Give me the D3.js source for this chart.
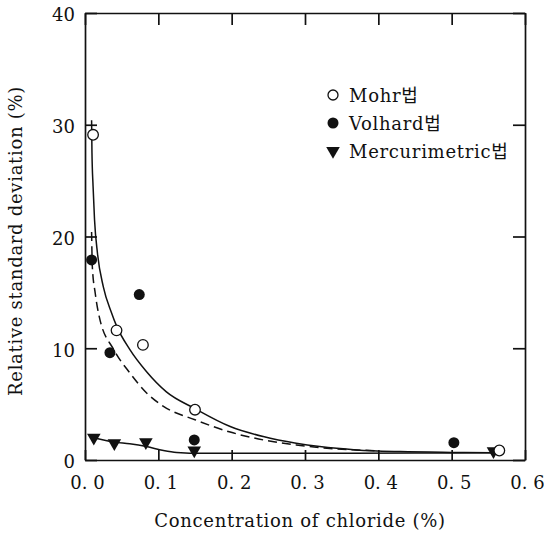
<!DOCTYPE html>
<html>
<head>
<meta charset="utf-8">
<script src="https://cdn.jsdelivr.net/npm/d3@7"></script>
<style>
  body { margin: 0; background: #fff; }
  svg text { font-family: "DejaVu Serif", "Noto Sans CJK KR", serif; fill: #111; }
</style>
</head>
<body>
<svg id="chart" width="544" height="541"></svg>
<script>
// measured points
const mohrConc = [0.011, 0.043, 0.079, 0.150, 0.565];
const mohrRsd = [29.1, 11.6, 10.3, 4.5, 0.85];
const volhardConc = [0.009, 0.034, 0.074, 0.149, 0.503];
const volhardRsd = [17.9, 9.6, 14.8, 1.8, 1.55];
const mercConc = [0.012, 0.040, 0.083, 0.149, 0.557];
const mercRsd = [2.0, 1.5, 1.6, 0.85, 0.8];

// fitted curves
const mohrFitConc = [0.009, 0.0095, 0.011, 0.013, 0.017, 0.025, 0.036, 0.043, 0.061, 0.084, 0.111, 0.150, 0.198, 0.243, 0.288, 0.320, 0.370, 0.430, 0.500, 0.555];
const mohrFitRsd = [30.4, 27.5, 24.5, 21.5, 18.5, 15.5, 13.2, 12.0, 9.9, 7.9, 6.1, 4.6, 3.0, 2.1, 1.5, 1.2, 0.9, 0.75, 0.68, 0.65];
const volhardFitConc = [0.009, 0.010, 0.014, 0.0195, 0.039, 0.061, 0.084, 0.107, 0.150, 0.198, 0.243, 0.288, 0.330, 0.370, 0.400];
const volhardFitRsd = [20.4, 17.3, 14.9, 12.8, 9.9, 7.8, 6.0, 4.8, 3.6, 2.5, 1.8, 1.35, 1.05, 0.9, 0.82];
const mercFitConc = [0.012, 0.040, 0.061, 0.084, 0.107, 0.125, 0.160, 0.300, 0.450, 0.555];
const mercFitRsd = [2.0, 1.6, 1.45, 1.2, 0.85, 0.68, 0.6, 0.6, 0.62, 0.65];

const xTickValues = [0, 0.1, 0.2, 0.3, 0.4, 0.5, 0.6];
const xTickLabels = ["0. 0", "0. 1", "0. 2", "0. 3", "0. 4", "0. 5", "0. 6"];
const yTickValues = [0, 10, 20, 30, 40];
const legendLabels = ["Mohr법", "Volhard법", "Mercurimetric법"];

const margin = {top: 13, right: 19, bottom: 81, left: 85};
const width = 544 - margin.left - margin.right;
const height = 541 - margin.top - margin.bottom;

const svg = d3.select("#chart");
const g = svg.append("g").attr("transform", `translate(${margin.left},${margin.top})`);

const x = d3.scaleLinear().domain([0, 0.6]).range([0, width]);
const y = d3.scaleLinear().domain([0, 40]).range([height, 0]);

// axes (all ticks point inward)
const xAxis = g.append("g")
    .attr("transform", `translate(0,${height})`)
    .call(d3.axisBottom(x).tickValues(xTickValues)
          .tickFormat((d, i) => xTickLabels[i])
          .tickSizeInner(-10).tickSizeOuter(0).tickPadding(16));
xAxis.selectAll("text").attr("x", 2).style("font-size", "18px");

const yAxis = g.append("g")
    .call(d3.axisLeft(y).tickValues(yTickValues)
          .tickSizeInner(-12).tickSizeOuter(0).tickPadding(10));
yAxis.selectAll("text").attr("y", 2).style("font-size", "18px");

g.append("g")
    .call(d3.axisTop(x).tickValues(xTickValues).tickFormat("")
          .tickSizeInner(-12).tickSizeOuter(0));
g.append("g")
    .attr("transform", `translate(${width},0)`)
    .call(d3.axisRight(y).tickValues(yTickValues).tickFormat("")
          .tickSizeInner(-12).tickSizeOuter(0));

g.selectAll(".domain, .tick line").attr("stroke", "#111").attr("stroke-width", 1.7);
g.selectAll(".tick text").attr("fill", "#111");

// axis titles
svg.append("text")
    .attr("x", margin.left + width / 2 - 5)
    .attr("y", 527)
    .attr("text-anchor", "middle")
    .style("font-size", "18px")
    .style("letter-spacing", "0.7px")
    .text("Concentration of chloride (%)");

svg.append("text")
    .attr("transform", "translate(22,241) rotate(-90)")
    .attr("text-anchor", "middle")
    .style("font-size", "18px")
    .style("letter-spacing", "0.7px")
    .text("Relative standard deviation (%)");

// fitted curves
const line = d3.line()
    .x(d => x(d[0]))
    .y(d => y(d[1]))
    .curve(d3.curveMonotoneX);

function drawFit(xs, ys, dash) {
  g.append("path")
      .datum(d3.zip(xs, ys))
      .attr("d", line)
      .attr("fill", "none")
      .attr("stroke", "#111")
      .attr("stroke-width", 1.5)
      .attr("stroke-dasharray", dash);
}
drawFit(mohrFitConc, mohrFitRsd, null);
drawFit(volhardFitConc, volhardFitRsd, "9,5");
drawFit(mercFitConc, mercFitRsd, null);

// markers
const tri = d3.symbol().type(d3.symbolTriangle).size(80);

g.selectAll(".merc")
    .data(d3.zip(mercConc, mercRsd))
    .join("path")
    .attr("class", "merc")
    .attr("d", tri)
    .attr("transform", d => `translate(${x(d[0])},${y(d[1])}) rotate(180)`)
    .attr("fill", "#111");

g.selectAll(".volhard")
    .data(d3.zip(volhardConc, volhardRsd))
    .join("circle")
    .attr("class", "volhard")
    .attr("cx", d => x(d[0]))
    .attr("cy", d => y(d[1]))
    .attr("r", 5.5)
    .attr("fill", "#111");

g.selectAll(".mohr")
    .data(d3.zip(mohrConc, mohrRsd))
    .join("circle")
    .attr("class", "mohr")
    .attr("cx", d => x(d[0]))
    .attr("cy", d => y(d[1]))
    .attr("r", 5.3)
    .attr("fill", "#fff")
    .attr("stroke", "#111")
    .attr("stroke-width", 1.3);

// legend
const legend = svg.append("g").attr("transform", "translate(333,95)");
legend.append("circle").attr("cx", 0).attr("cy", 0).attr("r", 5)
    .attr("fill", "#fff").attr("stroke", "#111").attr("stroke-width", 1.3);
legend.append("circle").attr("cx", 0).attr("cy", 28).attr("r", 5.5).attr("fill", "#111");
legend.append("path").attr("d", tri)
    .attr("transform", "translate(0,56) rotate(180)").attr("fill", "#111");

legend.selectAll("text")
    .data(legendLabels)
    .join("text")
    .attr("x", 16)
    .attr("y", (d, i) => i * 28 + 7)
    .style("font-size", "18px")
    .style("letter-spacing", "0.7px")
    .text(d => d);
</script>
</body>
</html>
